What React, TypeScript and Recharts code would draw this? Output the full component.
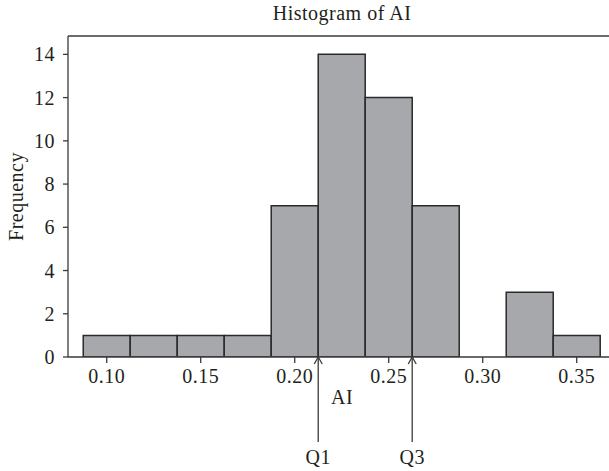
import React from "react";
import {
  ComposedChart,
  Bar,
  XAxis,
  YAxis,
  ReferenceLine,
} from "recharts";

// bin centres (bin width 0.025) and counts
const binCenters = [0.1, 0.125, 0.15, 0.175, 0.2, 0.225, 0.25, 0.275, 0.3, 0.325, 0.35];
const frequencies = [1, 1, 1, 1, 7, 14, 12, 7, 0, 3, 1];
const xTicks = [0.1, 0.15, 0.2, 0.25, 0.3, 0.35];
const yTicks = [0, 2, 4, 6, 8, 10, 12, 14];
const quartiles = [
  { name: "Q1", value: 0.2125 },
  { name: "Q3", value: 0.2625 },
];
const xDomain = [0.0794, 0.3709];
const yDomain = [0, 14.85];

const data = binCenters.map((ai, i) => ({ ai, freq: frequencies[i] }));

const INK = "#231f20";
const AXIS = "#3a3a3a";
const FONT = "'Liberation Serif', 'Times New Roman', serif";
const textStyle = { fontFamily: FONT, fontSize: 20, fill: INK, letterSpacing: 0.5 };

function QuartileArrow(props: any) {
  const { x1, y1, y2, name } = props;
  const base = Math.max(y1, y2);
  return (
    <g>
      <line x1={x1} y1={base} x2={x1} y2={base + 85} stroke={AXIS} strokeWidth={1.3} />
      <polyline
        points={`${x1 - 4},${base + 7} ${x1},${base} ${x1 + 4},${base + 7}`}
        fill="none"
        stroke={AXIS}
        strokeWidth={1.3}
      />
      <text x={x1} y={base + 107} textAnchor="middle" {...textStyle}>
        {name}
      </text>
    </g>
  );
}

export default function App() {
  return (
    <div
      style={{
        position: "fixed",
        left: 0,
        top: 0,
        width: 609,
        height: 471,
        overflow: "hidden",
        background: "#fff",
      }}
    >
      <ComposedChart
        width={616}
        height={471}
        data={data}
        margin={{ top: 0, right: 0, bottom: 0, left: 0 }}
        barCategoryGap={0}
        barGap={0}
      >
        <XAxis
          xAxisId="top"
          orientation="top"
          type="number"
          domain={xDomain}
          allowDataOverflow
          height={36}
          tick={false}
          tickLine={false}
          axisLine={{ stroke: AXIS, strokeWidth: 1.3 }}
          label={{
            content: ({ viewBox }: any) => (
              <text
                x={viewBox.x + viewBox.width / 2}
                y={viewBox.y + 19.5}
                textAnchor="middle"
                {...textStyle}
              >
                Histogram of AI
              </text>
            ),
          }}
        />
        <XAxis
          dataKey="ai"
          type="number"
          domain={xDomain}
          allowDataOverflow
          ticks={xTicks}
          tickFormatter={(v: number) => v.toFixed(2)}
          height={114}
          tickSize={6}
          tickMargin={6}
          tick={textStyle}
          stroke={AXIS}
          axisLine={{ stroke: AXIS, strokeWidth: 1.3 }}
          tickLine={{ stroke: AXIS, strokeWidth: 1.3 }}
          label={{
            content: ({ viewBox }: any) => (
              <text
                x={viewBox.x + viewBox.width / 2}
                y={viewBox.y + 47}
                textAnchor="middle"
                {...textStyle}
              >
                AI
              </text>
            ),
          }}
        />
        <YAxis
          type="number"
          domain={yDomain}
          allowDataOverflow
          ticks={yTicks}
          width={68}
          tickSize={5}
          tickMargin={8}
          tick={textStyle}
          stroke={AXIS}
          axisLine={{ stroke: AXIS, strokeWidth: 1.3 }}
          tickLine={{ stroke: AXIS, strokeWidth: 1.3 }}
          label={{
            content: ({ viewBox }: any) => {
              const cx = 23;
              const cy = viewBox.y + viewBox.height / 2;
              return (
                <text
                  x={cx}
                  y={cy}
                  textAnchor="middle"
                  transform={`rotate(-90, ${cx}, ${cy})`}
                  {...textStyle}
                >
                  Frequency
                </text>
              );
            },
          }}
        />
        <Bar
          dataKey="freq"
          fill="#a7a8ac"
          stroke="#2a2a2a"
          strokeWidth={1.5}
          isAnimationActive={false}
        />
        {quartiles.map((q) => (
          <ReferenceLine
            key={q.name}
            x={q.value}
            shape={(p: any) => <QuartileArrow {...p} name={q.name} />}
          />
        ))}
      </ComposedChart>
    </div>
  );
}
